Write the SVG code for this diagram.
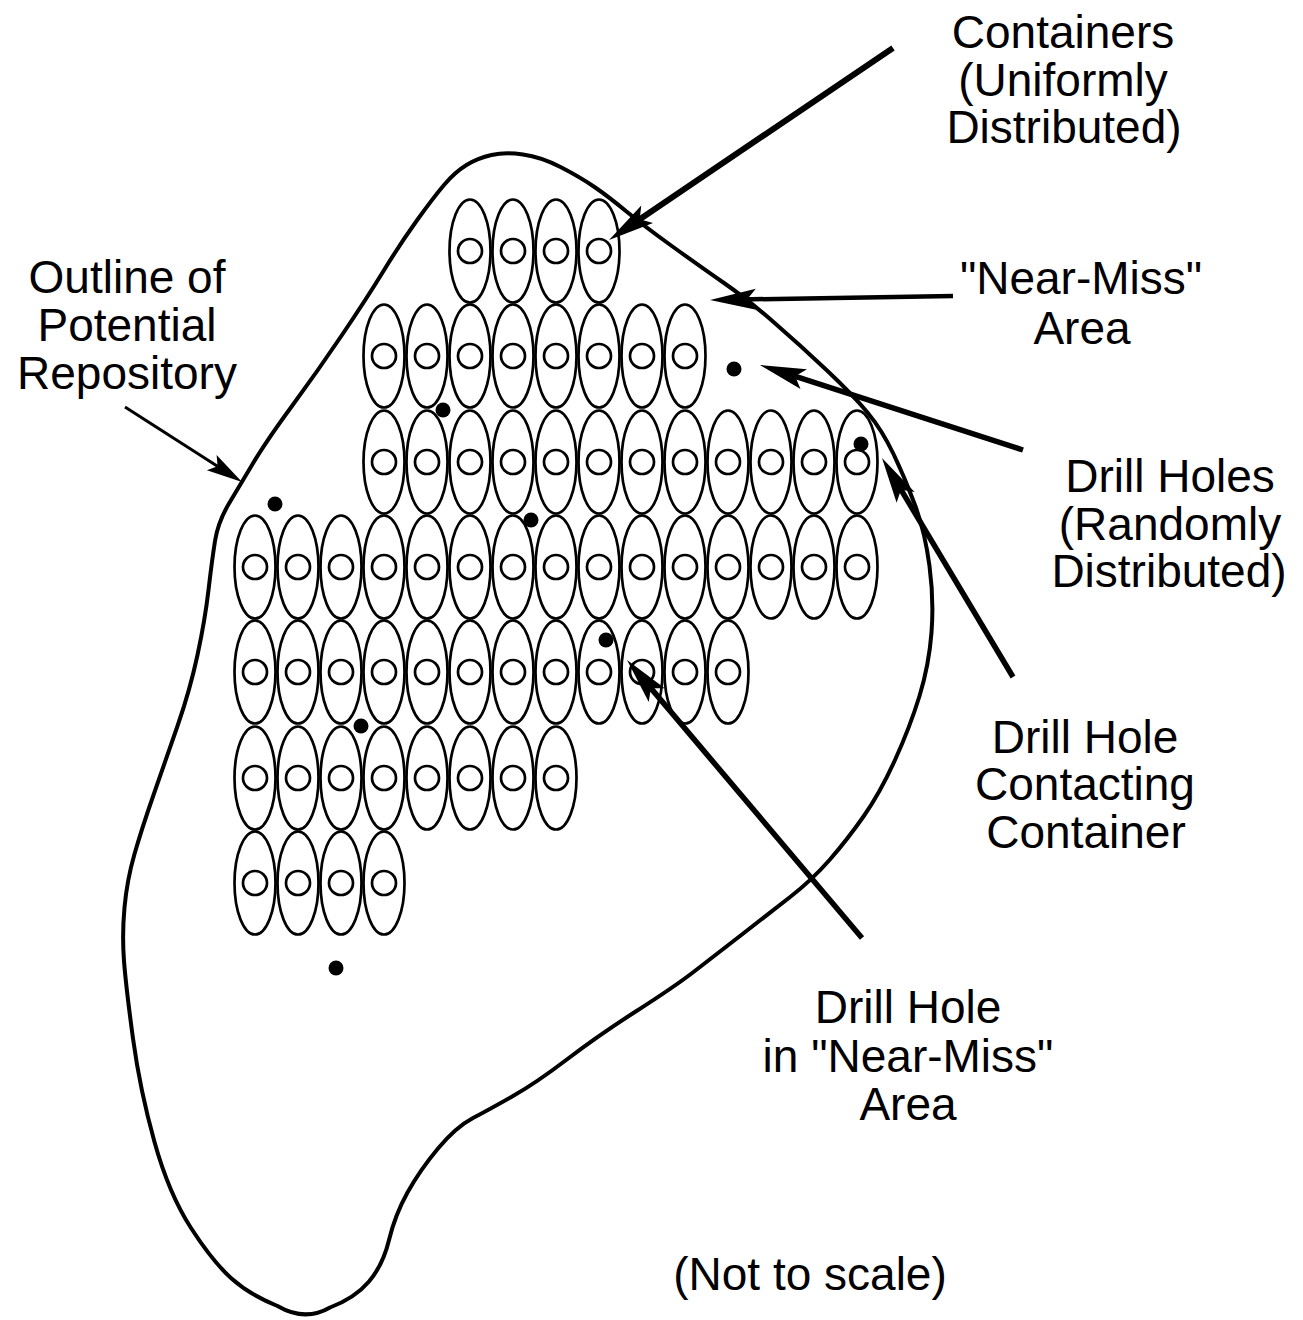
<svg xmlns="http://www.w3.org/2000/svg" xmlns:xlink="http://www.w3.org/1999/xlink" width="1303" height="1320" viewBox="0 0 1303 1320">
<style>
.lbl{font-family:"Liberation Sans",Arial,Helvetica,sans-serif;font-size:46px;fill:#000;text-anchor:middle}
.ell{fill:none;stroke:#000;stroke-width:2.7}
.dot{fill:#000}
.outline{fill:none;stroke:#000;stroke-width:4;stroke-linejoin:round}
.arr{fill:none;stroke:#000;stroke-width:5.5;stroke-linecap:butt}
</style>
<defs>
<marker id="ah" markerUnits="userSpaceOnUse" markerWidth="60" markerHeight="30" viewBox="-50 -15 60 30" refX="-30" refY="0" orient="auto">
<path d="M0,0 L-46,-10.5 L-37,0 L-46,10.5 Z" fill="#000"/>
</marker>
<marker id="ahs" markerUnits="userSpaceOnUse" markerWidth="50" markerHeight="24" viewBox="-40 -12 50 24" refX="-25" refY="0" orient="auto">
<path d="M0,0 L-36,-9 L-29,0 L-36,9 Z" fill="#000"/>
</marker>
<g id="ctr">
<ellipse class="ell" cx="0" cy="0" rx="20.5" ry="51.5"/>
<circle class="ell" cx="0" cy="0" r="12"/>
</g>
</defs>
<rect width="1303" height="1320" fill="#fff"/>

<g id="repository-outline">
<path class="outline" d="M491.5,155 Q505,152 523,154.5 Q541,157 560.5,167 Q580,177 594.5,187 Q609,197 626.5,211.5 Q644,226 672.5,246.5 Q701,267 724,283 Q747,299 773.5,322 Q800,345 826.5,370 Q853,395 867.5,412.5 Q882,430 893.5,454 Q905,478 915,505 Q925,532 929.5,566 Q934,600 931.5,632.5 Q929,665 919.5,696 Q910,727 895,760 Q880,793 863.5,816.5 Q847,840 829.5,860 Q812,880 789.5,897.5 Q767,915 740,936 Q713,957 693.5,972 Q674,987 636.5,1011 Q599,1035 567.5,1059 Q536,1083 513,1096 Q490,1109 473,1118 Q456,1127 438,1148.5 Q420,1170 407.5,1192.5 Q395,1215 389,1240 Q383,1265 369,1281.5 Q355,1298 330,1307.5 Q305,1322 277.5,1306 Q250,1295 231.5,1278.5 Q213,1262 191,1228 Q169,1194 154.5,1142 Q140,1090 133,1038.5 Q126,987 124,961 Q122,935 124.5,907.5 Q127,880 134.5,854 Q142,828 153.5,795 Q165,762 177.5,726 Q190,690 197.5,655 Q205,620 208.5,590 Q212,560 215,541 Q218,522 229,503.5 Q240,485 253.5,462.5 Q267,440 292,406 Q317,372 342,335 Q367,298 383.5,271 Q400,244 416.5,221 Q433,198 444,185 Q455,172 466.5,165 Q478,158 491.5,155 Z"/>
</g>

<g id="containers">
<use id="c0-5" xlink:href="#ctr" href="#ctr" x="470" y="251"/>
<use id="c0-6" xlink:href="#ctr" href="#ctr" x="513" y="251"/>
<use id="c0-7" xlink:href="#ctr" href="#ctr" x="556" y="251"/>
<use id="c0-8" xlink:href="#ctr" href="#ctr" x="599" y="251"/>

<use id="c1-3" xlink:href="#ctr" href="#ctr" x="384" y="356"/>
<use id="c1-4" xlink:href="#ctr" href="#ctr" x="427" y="356"/>
<use id="c1-5" xlink:href="#ctr" href="#ctr" x="470" y="356"/>
<use id="c1-6" xlink:href="#ctr" href="#ctr" x="513" y="356"/>
<use id="c1-7" xlink:href="#ctr" href="#ctr" x="556" y="356"/>
<use id="c1-8" xlink:href="#ctr" href="#ctr" x="599" y="356"/>
<use id="c1-9" xlink:href="#ctr" href="#ctr" x="642" y="356"/>
<use id="c1-10" xlink:href="#ctr" href="#ctr" x="685" y="356"/>

<use id="c2-3" xlink:href="#ctr" href="#ctr" x="384" y="462"/>
<use id="c2-4" xlink:href="#ctr" href="#ctr" x="427" y="462"/>
<use id="c2-5" xlink:href="#ctr" href="#ctr" x="470" y="462"/>
<use id="c2-6" xlink:href="#ctr" href="#ctr" x="513" y="462"/>
<use id="c2-7" xlink:href="#ctr" href="#ctr" x="556" y="462"/>
<use id="c2-8" xlink:href="#ctr" href="#ctr" x="599" y="462"/>
<use id="c2-9" xlink:href="#ctr" href="#ctr" x="642" y="462"/>
<use id="c2-10" xlink:href="#ctr" href="#ctr" x="685" y="462"/>
<use id="c2-11" xlink:href="#ctr" href="#ctr" x="728" y="462"/>
<use id="c2-12" xlink:href="#ctr" href="#ctr" x="771" y="462"/>
<use id="c2-13" xlink:href="#ctr" href="#ctr" x="814" y="462"/>
<use id="c2-14" xlink:href="#ctr" href="#ctr" x="857" y="462"/>

<use id="c3-0" xlink:href="#ctr" href="#ctr" x="255" y="567"/>
<use id="c3-1" xlink:href="#ctr" href="#ctr" x="298" y="567"/>
<use id="c3-2" xlink:href="#ctr" href="#ctr" x="341" y="567"/>
<use id="c3-3" xlink:href="#ctr" href="#ctr" x="384" y="567"/>
<use id="c3-4" xlink:href="#ctr" href="#ctr" x="427" y="567"/>
<use id="c3-5" xlink:href="#ctr" href="#ctr" x="470" y="567"/>
<use id="c3-6" xlink:href="#ctr" href="#ctr" x="513" y="567"/>
<use id="c3-7" xlink:href="#ctr" href="#ctr" x="556" y="567"/>
<use id="c3-8" xlink:href="#ctr" href="#ctr" x="599" y="567"/>
<use id="c3-9" xlink:href="#ctr" href="#ctr" x="642" y="567"/>
<use id="c3-10" xlink:href="#ctr" href="#ctr" x="685" y="567"/>
<use id="c3-11" xlink:href="#ctr" href="#ctr" x="728" y="567"/>
<use id="c3-12" xlink:href="#ctr" href="#ctr" x="771" y="567"/>
<use id="c3-13" xlink:href="#ctr" href="#ctr" x="814" y="567"/>
<use id="c3-14" xlink:href="#ctr" href="#ctr" x="857" y="567"/>

<use id="c4-0" xlink:href="#ctr" href="#ctr" x="255" y="672"/>
<use id="c4-1" xlink:href="#ctr" href="#ctr" x="298" y="672"/>
<use id="c4-2" xlink:href="#ctr" href="#ctr" x="341" y="672"/>
<use id="c4-3" xlink:href="#ctr" href="#ctr" x="384" y="672"/>
<use id="c4-4" xlink:href="#ctr" href="#ctr" x="427" y="672"/>
<use id="c4-5" xlink:href="#ctr" href="#ctr" x="470" y="672"/>
<use id="c4-6" xlink:href="#ctr" href="#ctr" x="513" y="672"/>
<use id="c4-7" xlink:href="#ctr" href="#ctr" x="556" y="672"/>
<use id="c4-8" xlink:href="#ctr" href="#ctr" x="599" y="672"/>
<use id="c4-9" xlink:href="#ctr" href="#ctr" x="642" y="672"/>
<use id="c4-10" xlink:href="#ctr" href="#ctr" x="685" y="672"/>
<use id="c4-11" xlink:href="#ctr" href="#ctr" x="728" y="672"/>

<use id="c5-0" xlink:href="#ctr" href="#ctr" x="255" y="778"/>
<use id="c5-1" xlink:href="#ctr" href="#ctr" x="298" y="778"/>
<use id="c5-2" xlink:href="#ctr" href="#ctr" x="341" y="778"/>
<use id="c5-3" xlink:href="#ctr" href="#ctr" x="384" y="778"/>
<use id="c5-4" xlink:href="#ctr" href="#ctr" x="427" y="778"/>
<use id="c5-5" xlink:href="#ctr" href="#ctr" x="470" y="778"/>
<use id="c5-6" xlink:href="#ctr" href="#ctr" x="513" y="778"/>
<use id="c5-7" xlink:href="#ctr" href="#ctr" x="556" y="778"/>

<use id="c6-0" xlink:href="#ctr" href="#ctr" x="255" y="883"/>
<use id="c6-1" xlink:href="#ctr" href="#ctr" x="298" y="883"/>
<use id="c6-2" xlink:href="#ctr" href="#ctr" x="341" y="883"/>
<use id="c6-3" xlink:href="#ctr" href="#ctr" x="384" y="883"/>
</g>

<g id="drill-holes">
<circle class="dot" cx="443" cy="410" r="7.5"/>
<circle class="dot" cx="275" cy="504" r="7.5"/>
<circle class="dot" cx="531" cy="520" r="7.5"/>
<circle class="dot" cx="734" cy="369" r="7.5"/>
<circle class="dot" cx="861" cy="444" r="7.5"/>
<circle class="dot" cx="606" cy="640" r="7.5"/>
<circle class="dot" cx="361" cy="726" r="7.5"/>
<circle class="dot" cx="336" cy="968" r="7.5"/>
</g>

<g id="connectors">
<line class="arr" style="stroke-width:6" x1="893" y1="48" x2="633.9" y2="223.2" marker-end="url(#ah)"/>
<line class="arr" style="stroke-width:4.5" x1="953" y1="296" x2="740" y2="299.5" marker-end="url(#ah)"/>
<line class="arr" x1="1023" y1="450" x2="788.5" y2="374.2" marker-end="url(#ah)"/>
<line class="arr" x1="1013" y1="677" x2="897.4" y2="483.7" marker-end="url(#ah)"/>
<line class="arr" x1="862" y1="938" x2="646.4" y2="682.9" marker-end="url(#ah)"/>
<line class="arr" style="stroke-width:3" x1="125" y1="407" x2="221" y2="468.5" marker-end="url(#ahs)"/>
</g>

<g id="label-containers">
<text class="lbl" x="1063" y="48">Containers</text>
<text class="lbl" x="1063" y="96">(Uniformly</text>
<text class="lbl" x="1064" y="143">Distributed)</text>
</g>
<g id="label-near-miss">
<text class="lbl" x="1081" y="294">"Near-Miss"</text>
<text class="lbl" x="1082" y="344">Area</text>
</g>
<g id="label-outline">
<text class="lbl" x="127" y="293">Outline of</text>
<text class="lbl" x="127" y="341">Potential</text>
<text class="lbl" x="127" y="389">Repository</text>
</g>
<g id="label-drill-holes">
<text class="lbl" x="1170" y="492">Drill Holes</text>
<text class="lbl" x="1170" y="540">(Randomly</text>
<text class="lbl" x="1169" y="587">Distributed)</text>
</g>
<g id="label-contacting">
<text class="lbl" x="1085" y="753">Drill Hole</text>
<text class="lbl" x="1085" y="800">Contacting</text>
<text class="lbl" x="1086" y="848">Container</text>
</g>
<g id="label-near-miss-hole">
<text class="lbl" x="908" y="1023">Drill Hole</text>
<text class="lbl" x="908" y="1072">in "Near-Miss"</text>
<text class="lbl" x="908" y="1120">Area</text>
</g>
<g id="label-scale">
<text class="lbl" x="810" y="1290">(Not to scale)</text>
</g>
</svg>
